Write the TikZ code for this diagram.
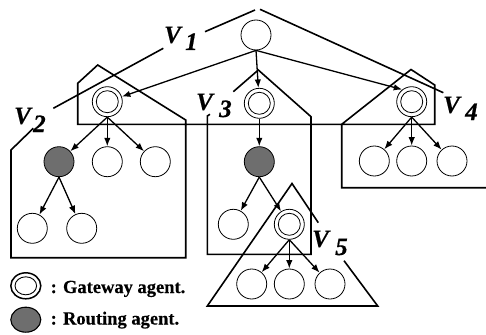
\documentclass[tikz,border=0pt]{standalone}
\usepackage{fontspec}
\setmainfont{Liberation Serif}
\newfontfamily\vfont{Liberation Serif}[FakeBold=0.6]
\newfontfamily\legfont{Liberation Serif}[FakeBold=0.3]
\usetikzlibrary{arrows.meta,shapes.geometric}
\definecolor{routegray}{gray}{0.43}
\begin{document}
\begin{tikzpicture}[x=1pt,y=-1pt,
  agent/.style={circle,draw,line width=0.8pt,minimum size=30pt,inner sep=0pt},
  gateway/.style={agent,path picture={\draw[line width=0.8pt] (path picture bounding box.center) circle (11pt);}},
  routing/.style={agent,fill=routegray},
  link/.style={line width=1.3pt,-{Latex[length=8.5pt,width=6.5pt]}},
  region/.style={line width=1.6pt},
  vletter/.style={anchor=base west,inner sep=0pt,font=\vfont\fontsize{25}{25}\selectfont\bfseries\itshape},
  legtext/.style={anchor=base west,inner sep=0pt,font=\legfont\fontsize{18.5}{20}\selectfont\bfseries},
  legsym/.style={ellipse,draw,line width=1.1pt,minimum width=30pt,minimum height=26pt,inner sep=0pt}]
\useasboundingbox (0,0) rectangle (486,334);

% region outlines
\draw[region] (53.3,108.3) -- (163.3,48.3);
\draw[region] (205,31.7) -- (255,10);
\draw[region] (260,9.3) -- (443.3,92.7);
\draw[region] (33.3,128.3) -- (11,150) -- (11,257.7) -- (185.7,257.7) -- (185.7,120) -- (97.7,65) -- (77.7,83.3) -- (77.7,124.3) -- (434.7,124.3) -- (434.7,85) -- (411,69.5) -- (341.7,124.3) -- (341.7,187.7) -- (486,187.7);
\draw[region] (233.3,91.7) -- (258.3,70) -- (311,116.7) -- (311,254.3) -- (207.3,254.3) -- (207.3,116) -- (210,114.3);
\draw[region] (318.3,222.7) -- (292,183.5) -- (207.3,306) -- (377.7,306) -- (344,260.7);

% agents
\node[agent] (root) at (256,35) {};
\node[gateway] (g2) at (107.3,101.7) {};
\node[gateway] (g3) at (259.3,103.3) {};
\node[gateway] (g4) at (411.7,101.7) {};
\node[routing] (r2) at (59,161.7) {};
\node[agent] (c2a) at (107.3,161.7) {};
\node[agent] (c2b) at (155.3,161.7) {};
\node[agent] (c2c) at (32.3,228.3) {};
\node[agent] (c2d) at (81.7,228.3) {};
\node[routing] (r3) at (259.3,161.7) {};
\node[agent] (c3a) at (233.3,224.3) {};
\node[gateway] (g5) at (289.3,224.3) {};
\node[agent] (c5a) at (251.7,284) {};
\node[agent] (c5b) at (289.3,284) {};
\node[agent] (c5c) at (330,284) {};
\node[agent] (c4a) at (374.3,161) {};
\node[agent] (c4b) at (411.7,161) {};
\node[agent] (c4c) at (452,161) {};

% links
\draw[link] (root.south) -- (g2);
\draw[link] (root.south) -- (g3);
\draw[link] (root.south) -- (g4.128);
\draw[link] (g2.south) -- (r2);
\draw[link] (g2.south) -- (c2a);
\draw[link] (g2.south) -- (c2b);
\draw[link] (r2.south) -- (c2c);
\draw[link] (r2.south) -- (c2d);
\draw[link] (g3.south) -- (r3);
\draw[link] (r3.south) -- (c3a);
\draw[link] (r3.south) -- (g5);
\draw[link] (g5.south) -- (c5a);
\draw[link] (g5.south) -- (c5b);
\draw[link] (g5.south) -- (c5c);
\draw[link] (g4.south) -- (c4a);
\draw[link] (g4.south) -- (c4b);
\draw[link] (g4.south) -- (c4c);

% region labels
\node[vletter] (v1v) at (164,43) {V};
\node[vletter] (v1n) at (185,50) {1};
\node[vletter] (v2v) at (14,124) {V};
\node[vletter] (v2n) at (33,132) {2};
\node[vletter] (v3v) at (196,110) {V};
\node[vletter] (v3n) at (219,117) {3};
\node[vletter] (v4v) at (443,113) {V};
\node[vletter] (v4n) at (465,120) {4};
\node[vletter] (v5v) at (312,247) {V};
\node[vletter] (v5n) at (335,255) {5};

% legend
\node[legsym,line width=1.5pt,path picture={\draw[line width=0.9pt] (path picture bounding box.center) ellipse [x radius=10.8pt,y radius=9pt];}] (leggw) at (25.8,285.8) {};
\node[legsym,fill=routegray,minimum height=25pt] (legrt) at (25.8,319.7) {};
\node[legtext] (leggwt) at (50.5,293) {: Gateway agent.};
\node[legtext] (legrtt) at (50.5,324.5) {: Routing agent.};
\end{tikzpicture}
\end{document}
